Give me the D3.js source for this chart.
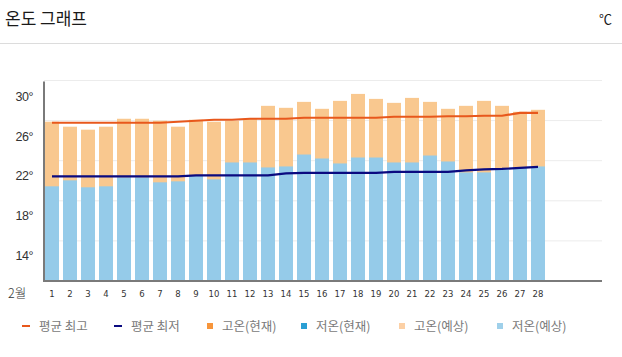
<!DOCTYPE html>
<html><head><meta charset="utf-8">
<script src="https://cdn.jsdelivr.net/npm/d3@7/dist/d3.min.js"></script>
<style>body{margin:0;background:#fff;overflow:hidden}</style>
</head><body><svg id="c" width="622" height="357"></svg>
<script>
const days = ["1","2","3","4","5","6","7","8","9","10","11","12","13","14","15","16","17","18","19","20","21","22","23","24","25","26","27","28"];
const highForecast = [27.5,27.0,26.7,27.0,27.8,27.8,27.6,27.0,27.7,27.5,27.6,27.8,29.1,28.9,29.5,28.8,29.6,30.3,29.8,29.4,29.9,29.5,28.8,29.1,29.6,29.1,28.5,28.7];
const lowForecast = [21.0,21.6,20.9,21.0,21.9,21.9,21.4,21.5,22.1,21.7,23.4,23.4,22.9,23.0,24.2,23.8,23.3,23.9,23.9,23.4,23.4,24.1,23.5,22.4,22.4,22.8,22.9,23.0];
const avgHigh = [27.4,27.4,27.4,27.4,27.4,27.4,27.4,27.5,27.6,27.7,27.7,27.8,27.8,27.8,27.9,27.9,27.9,27.9,27.9,28.0,28.0,28.0,28.05,28.05,28.1,28.1,28.4,28.4];
const avgLow = [22.0,22.0,22.0,22.0,22.0,22.0,22.0,22.0,22.1,22.1,22.1,22.1,22.1,22.3,22.35,22.35,22.35,22.35,22.35,22.45,22.45,22.45,22.45,22.6,22.7,22.75,22.85,22.95];
const yTicks = [14,18,22,26,30];
const monthLabel = "2월";
const title = "온도 그래프";
const unit = "℃";
const legendItems = [
  {name:"평균 최고", type:"line", color:"#e8581c"},
  {name:"평균 최저", type:"line", color:"#0a0a80"},
  {name:"고온(현재)", type:"rect", color:"#f7953b"},
  {name:"저온(현재)", type:"rect", color:"#2a9fd4"},
  {name:"고온(예상)", type:"rect", color:"#fcd0a5"},
  {name:"저온(예상)", type:"rect", color:"#9fd0ea"}
];

const svg = d3.select("#c");
const KR = "'Noto Sans CJK KR','Noto Sans',sans-serif";
const plotTop = 80.5, plotBottom = 281, plotLeft = 44, plotRight = 602;

const x = d3.scaleBand().domain(days).range([43, 547]).paddingInner(4/18).paddingOuter(2/18);
const y = d3.scaleLinear().domain([11.47, 31.65]).range([plotBottom, plotTop]);

// header
svg.append("text").attr("x",5).attr("y",25).attr("font-family",KR).attr("font-size",17)
  .attr("fill","#1a1a1a").text(title);
svg.append("text").attr("x",612).attr("y",24).attr("text-anchor","end").attr("font-family",KR)
  .attr("font-size",13).attr("fill","#1a1a1a").text(unit);
svg.append("line").attr("x1",0).attr("x2",622).attr("y1",43.5).attr("y2",43.5)
  .attr("stroke","#dcdcdc").attr("stroke-width",1);

// gridlines (5 evenly spaced)
const gStep = (plotBottom - plotTop)/5;
svg.append("g").selectAll("line").data(d3.range(5)).join("line")
  .attr("x1",plotLeft).attr("x2",plotRight)
  .attr("y1",i=>plotTop+i*gStep).attr("y2",i=>plotTop+i*gStep)
  .attr("stroke","#ececec").attr("stroke-width",1);

// y labels
svg.append("g").selectAll("text").data(yTicks).join("text")
  .attr("x",33).attr("y",d=>y(d)+4).attr("text-anchor","end")
  .attr("font-family","'Liberation Sans Narrow','Liberation Sans',sans-serif")
  .attr("font-size",12.5).attr("fill","#333").attr("letter-spacing",-0.5)
  .text(d=>d+"°");

// bars
svg.append("g").selectAll("rect").data(days).join("rect")
  .attr("x",d=>x(d)).attr("width",x.bandwidth())
  .attr("y",(d,i)=>y(highForecast[i])).attr("height",(d,i)=>plotBottom-y(highForecast[i]))
  .attr("fill","#f9c88f");
svg.append("g").selectAll("rect").data(days).join("rect")
  .attr("x",d=>x(d)).attr("width",x.bandwidth())
  .attr("y",(d,i)=>y(lowForecast[i])).attr("height",(d,i)=>plotBottom-y(lowForecast[i]))
  .attr("fill","#95cbe9");

// lines
const line = d3.line().x((d,i)=>x(days[i])+x.bandwidth()/2).y(d=>y(d));
svg.append("path").attr("d",line(avgHigh)).attr("fill","none").attr("stroke","#e8581c").attr("stroke-width",2.2);
svg.append("path").attr("d",line(avgLow)).attr("fill","none").attr("stroke","#0a0a80").attr("stroke-width",2.2);

// axes lines
svg.append("line").attr("x1",plotLeft).attr("x2",plotLeft).attr("y1",plotTop+1).attr("y2",plotBottom)
  .attr("stroke","#7a7a7a").attr("stroke-width",2);
svg.append("line").attr("x1",plotLeft-1).attr("x2",plotRight).attr("y1",plotBottom).attr("y2",plotBottom)
  .attr("stroke","#7a7a7a").attr("stroke-width",2);

// x labels
svg.append("g").selectAll("text").data(days).join("text")
  .attr("x",d=>x(d)+x.bandwidth()/2).attr("y",297).attr("text-anchor","middle")
  .attr("font-family","'DejaVu Sans',sans-serif").attr("font-size",8.5).attr("fill","#333")
  .text(d=>d);
svg.append("text").attr("x",8).attr("y",298).attr("font-family",KR).attr("font-size",12.5)
  .attr("font-weight",300).attr("fill","#333").text(monthLabel);

// legend
const lx = [22,114,206,300,398,496];
const lg = svg.append("g").selectAll("g").data(legendItems).join("g")
  .attr("transform",(d,i)=>`translate(${lx[i]},326)`);
lg.filter(d=>d.type==="line").append("line").attr("x1",0).attr("x2",8).attr("y1",0).attr("y2",0)
  .attr("stroke",d=>d.color).attr("stroke-width",2);
lg.filter(d=>d.type==="rect").append("rect").attr("x",1).attr("y",-3).attr("width",6).attr("height",6)
  .attr("fill",d=>d.color);
lg.append("text").attr("x",d=>d.type==="line"?17:16).attr("y",4.5).attr("font-family",KR)
  .attr("font-size",12.5).attr("fill","#7a7a7a").text(d=>d.name);
</script></body></html>
